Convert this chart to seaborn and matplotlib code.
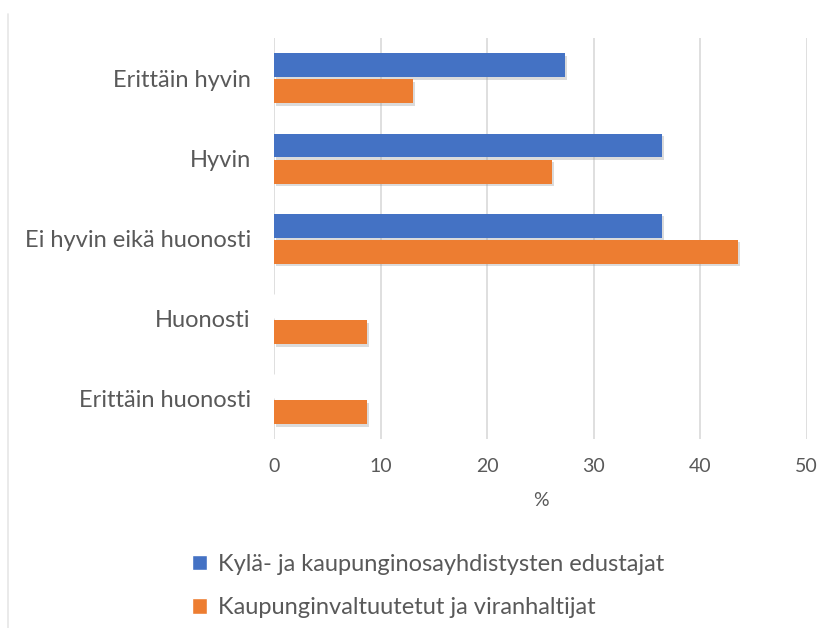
import pandas as pd
import matplotlib.pyplot as plt
import matplotlib.patheffects as pe
import seaborn as sns

categories = ['Erittäin hyvin', 'Hyvin', 'Ei hyvin eikä huonosti', 'Huonosti', 'Erittäin huonosti']
series_names = ['Kylä- ja kaupunginosayhdistysten edustajat', 'Kaupunginvaltuutetut ja viranhaltijat']
yhdistykset = [27.3, 36.4, 36.4, 0.0, 0.0]
valtuutetut = [13.0, 26.1, 43.5, 8.7, 8.7]
x_ticks = [0, 10, 20, 30, 40, 50]
colors = ['#4472c4', '#ed7d31']

df = pd.DataFrame({
    'kategoria': categories * 2,
    'arvo': yhdistykset + valtuutetut,
    'ryhma': [series_names[0]] * len(categories) + [series_names[1]] * len(categories),
})

sns.set_theme(style="white")
plt.rcParams['font.family'] = ['Lato', 'DejaVu Sans']
text_color = '#595959'

fig = plt.figure(figsize=(8.19, 6.28), dpi=100)
ax = fig.add_axes([0.335, 0.301, 0.650, 0.638])

sns.barplot(data=df, x='arvo', y='kategoria', hue='ryhma', orient='h',
            palette=colors, saturation=1, width=0.65, gap=0.08, ax=ax, legend=True,
            order=categories, hue_order=series_names)

# soft drop shadow like in the original chart
for bar in ax.patches:
    if bar.get_width() > 0:
        bar.set_path_effects([pe.SimplePatchShadow(offset=(1.5, -2), shadow_rgbFace='#9a9a9a', alpha=0.35),
                              pe.Normal()])
        bar.set_edgecolor('none')

ax.set_xlim(0, 50)
ax.set_xticks(x_ticks)
ax.set_xticklabels([str(t) for t in x_ticks])
ax.set_ylim(len(categories) - 0.5, -0.5)
ax.grid(axis='x', color='#d9d9d9', linewidth=1.2)
ax.set_axisbelow(True)
for s in ax.spines.values():
    s.set_visible(False)

ax.tick_params(axis='x', length=0, pad=14, labelsize=14, labelcolor=text_color)
ax.tick_params(axis='y', length=0, pad=17, labelsize=17, labelcolor=text_color)
ax.set_ylabel('')
ax.set_xlabel('%', fontsize=14, color=text_color, labelpad=12)

handles, labels = ax.get_legend_handles_labels()
ax.get_legend().remove()
fig.legend(handles, labels, loc='upper left', bbox_to_anchor=(0.208, 0.152),
           frameon=False, fontsize=17, labelcolor=text_color,
           handlelength=0.65, handleheight=0.65, handletextpad=0.45, labelspacing=0.95)

# faint chart border on the left
fig.add_artist(plt.Line2D([0.0098, 0.0098], [0.0, 0.978], color='#e6e6e6', linewidth=1.2))

fig.savefig('out.png', dpi=100)
